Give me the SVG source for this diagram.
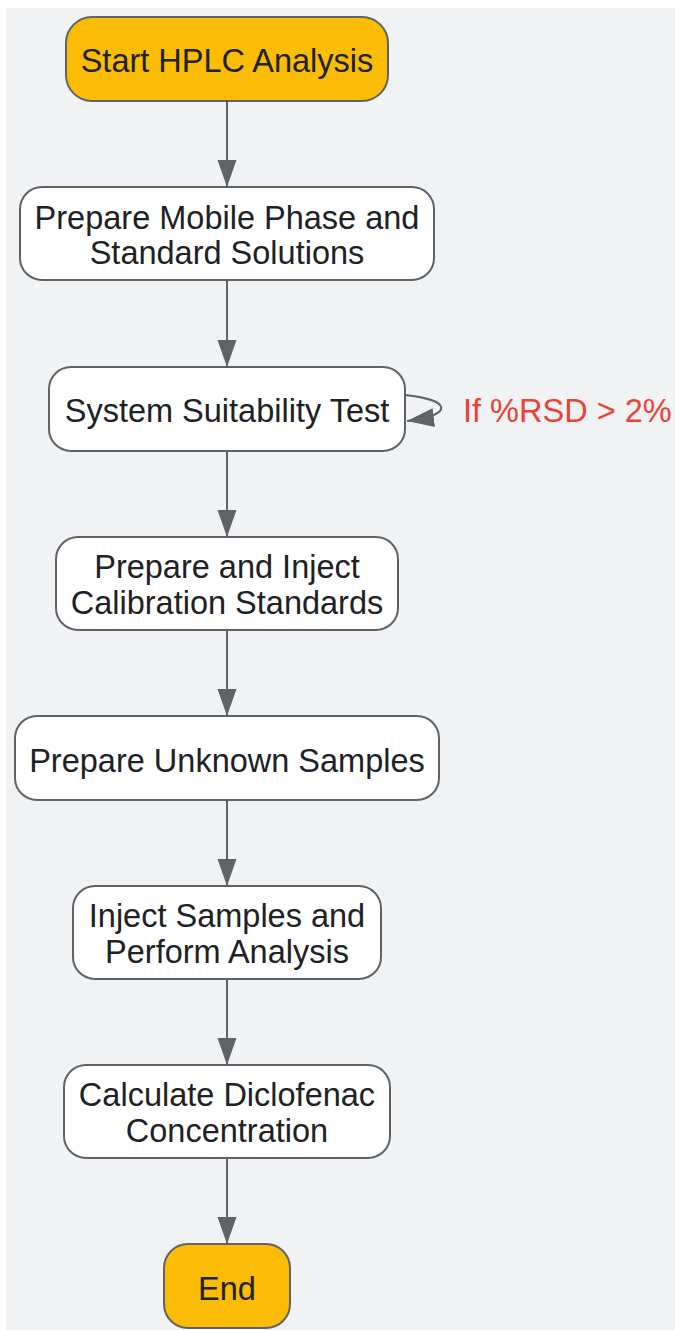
<svg xmlns="http://www.w3.org/2000/svg" width="675" height="1330" viewBox="0 0 675 1330">
<style>
.node rect{stroke:#5f6368;stroke-width:2}
.proc rect{fill:#ffffff}
.term rect{fill:#fbbc05}
.node text{font-family:"Liberation Sans",Arial,sans-serif;font-size:32.5px;fill:#202124;text-anchor:middle}
.edge{fill:none;stroke:#5f6368;stroke-width:2}
.lbl{font-family:"Liberation Sans",Arial,sans-serif;font-size:32.5px;fill:#ea4335}
</style>
<defs>
<marker id="ah" markerUnits="userSpaceOnUse" markerWidth="28" markerHeight="20" refX="27" refY="9.5" orient="auto">
<path d="M0,0 L27,9.5 L0,19 z" fill="#5f6368"/>
</marker>
</defs>
<rect x="0" y="0" width="675" height="1330" fill="#ffffff"/>
<rect x="6" y="8" width="669" height="1322" fill="#f1f2f4"/>
<g id="connectors">
<path class="edge" d="M227,101 L227,187" marker-end="url(#ah)"/>
<path class="edge" d="M227,280 L227,367" marker-end="url(#ah)"/>
<path class="edge" d="M405,395 C452,400 454,415 407,421" marker-end="url(#ah)"/>
<path class="edge" d="M227,451 L227,537" marker-end="url(#ah)"/>
<path class="edge" d="M227,630 L227,716" marker-end="url(#ah)"/>
<path class="edge" d="M227,800 L227,886" marker-end="url(#ah)"/>
<path class="edge" d="M227,979 L227,1065" marker-end="url(#ah)"/>
<path class="edge" d="M227,1158 L227,1244" marker-end="url(#ah)"/>
<text class="lbl" x="463" y="422">If %RSD &gt; 2%</text>
</g>
<g id="start" class="node term"><rect x="66" y="17" width="322" height="84" rx="26"/><text x="227" y="72">Start HPLC Analysis</text></g>
<g id="prep-mobile" class="node proc"><rect x="20" y="187" width="414" height="93" rx="22"/><text x="227" y="228.5">Prepare Mobile Phase and</text><text x="227" y="264">Standard Solutions</text></g>
<g id="suitability" class="node proc"><rect x="49" y="367" width="356" height="84" rx="22"/><text x="227" y="421.5">System Suitability Test</text></g>
<g id="calibration" class="node proc"><rect x="56" y="537" width="342" height="93" rx="22"/><text x="227" y="578">Prepare and Inject</text><text x="227" y="613.5">Calibration Standards</text></g>
<g id="unknown" class="node proc"><rect x="15" y="716" width="424" height="84" rx="22"/><text x="227" y="771.5">Prepare Unknown Samples</text></g>
<g id="inject" class="node proc"><rect x="73" y="886" width="308" height="93" rx="22"/><text x="227" y="927">Inject Samples and</text><text x="227" y="962.5">Perform Analysis</text></g>
<g id="calculate" class="node proc"><rect x="64" y="1065" width="326" height="93" rx="22"/><text x="227" y="1106">Calculate Diclofenac</text><text x="227" y="1141.5">Concentration</text></g>
<g id="end" class="node term"><rect x="164" y="1244" width="126" height="84" rx="24"/><text x="227" y="1299.5">End</text></g>
</svg>
